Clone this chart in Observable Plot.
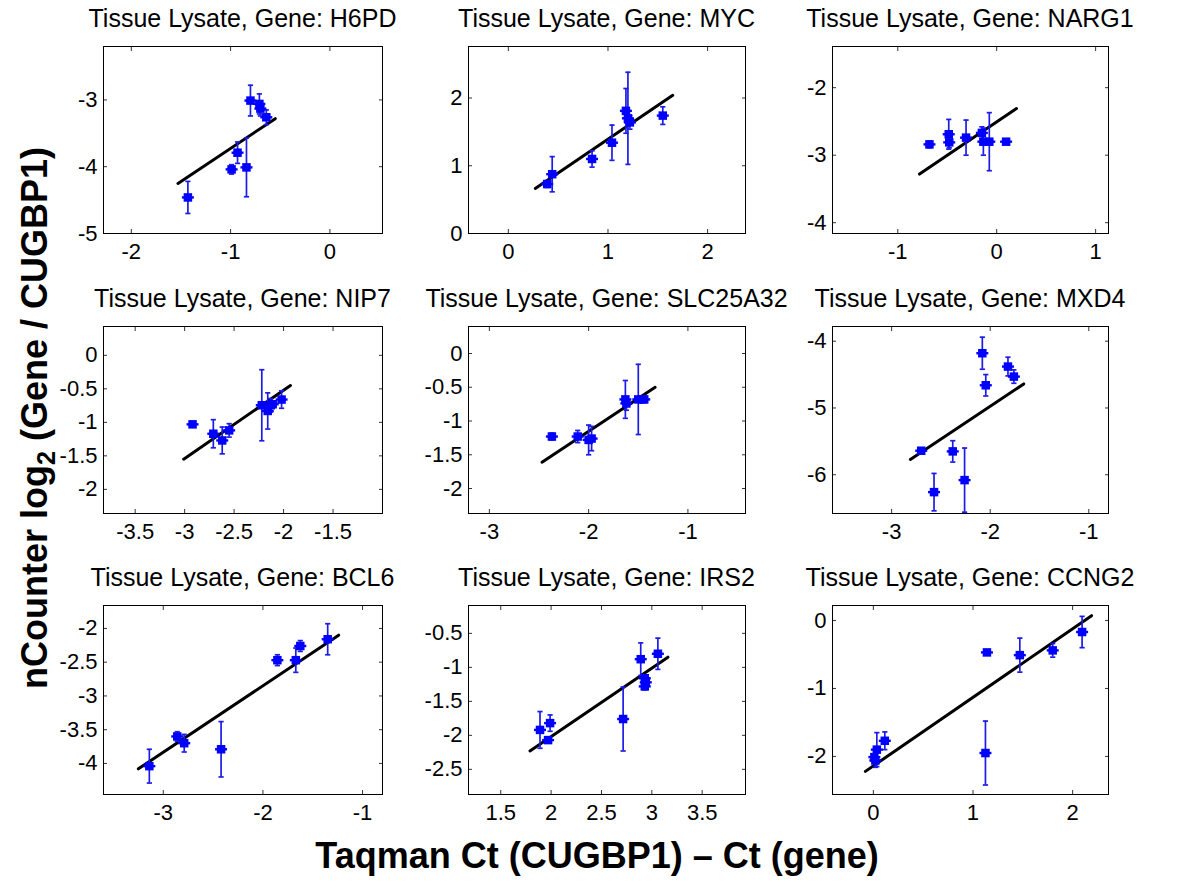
<!DOCTYPE html>
<html>
<head>
<meta charset="utf-8">
<script src="https://cdn.jsdelivr.net/npm/d3@7"></script>
<script src="https://cdn.jsdelivr.net/npm/@observablehq/plot@0.6"></script>
<style>
  body { margin: 0; background: #fff; }
  #fig { position: relative; width: 1200px; height: 888px; background: #fff; overflow: hidden;
         font-family: "Liberation Sans", Arial, sans-serif; }
  #fig svg { position: absolute; }
</style>
</head>
<body>
<div id="fig"></div>
<script>
// ---- Data ----
const genes = ["H6PD", "MYC", "NARG1", "NIP7", "SLC25A32", "MXD4", "BCL6", "IRS2", "CCNG2"];

const xValues = [
  [-1.43, -0.99, -0.93, -0.84, -0.80, -0.71, -0.70, -0.64],
  [0.39, 0.44, 0.84, 1.04, 1.18, 1.20, 1.22, 1.55],
  [-0.68, -0.485, -0.48, -0.31, -0.15, -0.135, -0.075, 0.095],
  [-2.92, -2.71, -2.62, -2.55, -2.22, -2.16, -2.13, -2.11, -2.02],
  [-2.37, -2.11, -2.00, -1.97, -1.63, -1.62, -1.50, -1.46, -1.44],
  [-2.70, -2.57, -2.38, -2.26, -2.08, -2.045, -1.82, -1.76],
  [-3.14, -2.86, -2.79, -2.42, -1.855, -1.67, -1.625, -1.35],
  [1.89, 1.97, 1.99, 2.715, 2.89, 2.93, 2.94, 2.93, 3.06],
  [0.01, 0.02, 0.035, 0.115, 1.125, 1.14, 1.47, 1.80, 2.095]
];

const yValues = [
  [-4.46, -4.04, -3.79, -4.01, -3.01, -3.06, -3.13, -3.26],
  [0.73, 0.875, 1.10, 1.34, 1.81, 1.70, 1.64, 1.74],
  [-2.84, -2.69, -2.81, -2.74, -2.67, -2.80, -2.80, -2.80],
  [-1.03, -1.17, -1.27, -1.12, -0.745, -0.83, -0.745, -0.73, -0.66],
  [-1.23, -1.23, -1.28, -1.26, -0.68, -0.74, -0.68, -0.68, -0.68],
  [-5.64, -6.26, -5.65, -6.08, -4.18, -4.66, -4.38, -4.53],
  [-4.04, -3.60, -3.70, -3.79, -2.47, -2.47, -2.26, -2.16],
  [-1.92, -2.07, -1.82, -1.76, -0.88, -1.16, -1.22, -1.28, -0.80],
  [-2.01, -2.06, -1.90, -1.77, -1.95, -0.47, -0.51, -0.44, -0.17]
];

const yErrors = [
  [0.24, 0.07, 0.16, 0.44, 0.23, 0.15, 0.11, 0.11],
  [0.05, 0.26, 0.12, 0.26, 0.33, 0.68, 0.10, 0.13],
  [0.05, 0.22, 0.08, 0.26, 0.09, 0.20, 0.43, 0.03],
  [0.04, 0.21, 0.20, 0.10, 0.53, 0.27, 0.10, 0.05, 0.13],
  [0.05, 0.09, 0.22, 0.18, 0.28, 0.10, 0.52, 0.04, 0.04],
  [0.04, 0.28, 0.16, 0.48, 0.24, 0.16, 0.14, 0.10],
  [0.25, 0.07, 0.13, 0.41, 0.08, 0.18, 0.08, 0.23],
  [0.27, 0.04, 0.12, 0.47, 0.24, 0.05, 0.05, 0.05, 0.23],
  [0.04, 0.10, 0.25, 0.13, 0.47, 0.03, 0.25, 0.10, 0.23]
];

// regression line end points
const fitX = [
  [-1.53, -0.55], [0.27, 1.65], [-0.78, 0.20],
  [-3.01, -1.93], [-2.47, -1.33], [-2.81, -1.66],
  [-3.25, -1.24], [1.79, 3.16], [-0.08, 2.19]
];
const fitY = [
  [-4.25, -3.28], [0.665, 2.04], [-3.28, -2.31],
  [-1.55, -0.45], [-1.61, -0.50], [-5.77, -4.64],
  [-4.08, -2.10], [-2.23, -0.85], [-2.22, 0.07]
];

const xTicks = [
  [-2, -1, 0], [0, 1, 2], [-1, 0, 1],
  [-3.5, -3, -2.5, -2, -1.5], [-3, -2, -1], [-3, -2, -1],
  [-3, -2, -1], [1.5, 2, 2.5, 3, 3.5], [0, 1, 2]
];
const yTicks = [
  [-5, -4, -3], [0, 1, 2], [-4, -3, -2],
  [-2, -1.5, -1, -0.5, 0], [-2, -1.5, -1, -0.5, 0], [-6, -5, -4],
  [-4, -3.5, -3, -2.5, -2], [-2.5, -2, -1.5, -1, -0.5], [-2, -1, 0]
];
const xDomains = [
  [-2.28, 0.53], [-0.40, 2.38], [-1.66, 1.13],
  [-3.82, -1.00], [-3.21, -0.42], [-3.60, -0.80],
  [-3.60, -0.80], [1.18, 3.93], [-0.41, 2.36]
];
const yDomains = [
  [-5, -2.2], [0, 2.76], [-4.16, -1.39],
  [-2.36, 0.43], [-2.37, 0.40], [-6.58, -3.78],
  [-4.46, -1.66], [-2.87, -0.09], [-2.56, 0.22]
];

const titlePrefix = "Tissue Lysate, Gene: ";
const xLabel = "Taqman Ct (CUGBP1) \u2013 Ct (gene)";

// ---- Layout ----
const colLeft = [103, 468, 832], colRight = [382, 745, 1108];
const rowTop = [46, 326, 605], rowBottom = [233, 513, 794];
const titleBase = [27, 307, 586];
const mL = 60, mR = 15, mT = 8, mB = 42;
const FONT = "'Liberation Sans', Arial, Helvetica, sans-serif";

const fig = document.getElementById("fig");

const capSymbol = { draw(ctx) { ctx.moveTo(-2.6, 0); ctx.lineTo(2.6, 0); } };
const hbarSymbol = { draw(ctx) { ctx.moveTo(-6, 0); ctx.lineTo(6, 0); } };
const fmt = d => String(d);
const blank = () => "";
const dotBlue = "#0000ff";
const barBlue = "#1c1ce6";

genes.forEach((g, i) => {
  const r = Math.floor(i / 3), c = i % 3;
  const bw = colRight[c] - colLeft[c], bh = rowBottom[r] - rowTop[r];
  const pts = xValues[i].map((x, j) => ({ x, y: yValues[i][j], e: yErrors[i][j] }));
  const fit = fitX[i].map((x, j) => ({ x, y: fitY[i][j] }));
  const p = Plot.plot({
    width: bw + mL + mR,
    height: bh + mT + mB,
    marginLeft: mL, marginRight: mR, marginTop: mT, marginBottom: mB,
    x: { domain: xDomains[i] },
    y: { domain: yDomains[i] },
    style: { fontFamily: FONT, fontSize: "22px", color: "#000", background: "transparent", overflow: "visible" },
    marks: [
      Plot.axisX(xTicks[i], { anchor: "bottom", tickSize: -4, tickPadding: 14, tickFormat: fmt, fontSize: 22, label: null, stroke: "#333" }),
      Plot.axisX(xTicks[i], { anchor: "top", tickSize: -4, tickFormat: blank, label: null, stroke: "#333" }),
      Plot.axisY(yTicks[i], { anchor: "left", tickSize: -4, tickPadding: 10, tickFormat: fmt, fontSize: 22, label: null, stroke: "#333" }),
      Plot.axisY(yTicks[i], { anchor: "right", tickSize: -4, tickFormat: blank, label: null, stroke: "#333" }),
      Plot.line(fit, { x: "x", y: "y", stroke: "#000", strokeWidth: 3 }),
      Plot.ruleX(pts, { x: "x", y1: d => d.y - d.e, y2: d => d.y + d.e, stroke: barBlue, strokeWidth: 1.7, clip: true }),
      Plot.dot(pts, { x: "x", y: d => d.y - d.e, symbol: capSymbol, r: 2, fill: "none", stroke: barBlue, strokeWidth: 1.7, clip: true }),
      Plot.dot(pts, { x: "x", y: d => d.y + d.e, symbol: capSymbol, r: 2, fill: "none", stroke: barBlue, strokeWidth: 1.7, clip: true }),
      Plot.dot(pts, { x: "x", y: "y", symbol: hbarSymbol, r: 2, fill: "none", stroke: dotBlue, strokeWidth: 2.4 }),
      Plot.dot(pts, { x: "x", y: "y", symbol: "square", r: 4.8, fill: dotBlue, stroke: "none" }),
      Plot.frame({ stroke: "#000", strokeWidth: 1 })
    ]
  });
  p.style.left = (colLeft[c] - mL) + "px";
  p.style.top = (rowTop[r] - mT) + "px";
  fig.appendChild(p);
});

// ---- Titles and axis labels overlay ----
const overlay = d3.create("svg")
  .attr("width", 1200).attr("height", 888)
  .style("left", "0px").style("top", "0px")
  .style("pointer-events", "none")
  .attr("font-family", FONT);

genes.forEach((g, i) => {
  const r = Math.floor(i / 3), c = i % 3;
  overlay.append("text")
    .attr("x", (colLeft[c] + colRight[c]) / 2)
    .attr("y", titleBase[r])
    .attr("text-anchor", "middle")
    .attr("font-size", 25)
    .attr("fill", "#000")
    .text(titlePrefix + g);
});

overlay.append("text")
  .attr("x", 597).attr("y", 868)
  .attr("text-anchor", "middle")
  .attr("font-size", 36).attr("font-weight", "bold")
  .attr("fill", "#000")
  .text(xLabel);

const yl = overlay.append("text")
  .attr("transform", "translate(47,418) rotate(-90)")
  .attr("text-anchor", "middle")
  .attr("font-size", 36).attr("font-weight", "bold")
  .attr("fill", "#000");
yl.append("tspan").text("nCounter log");
yl.append("tspan").attr("font-size", 25).attr("dy", 8).text("2");
yl.append("tspan").attr("dy", -8).text(" (Gene / CUGBP1)");

fig.appendChild(overlay.node());
</script>
</body>
</html>
